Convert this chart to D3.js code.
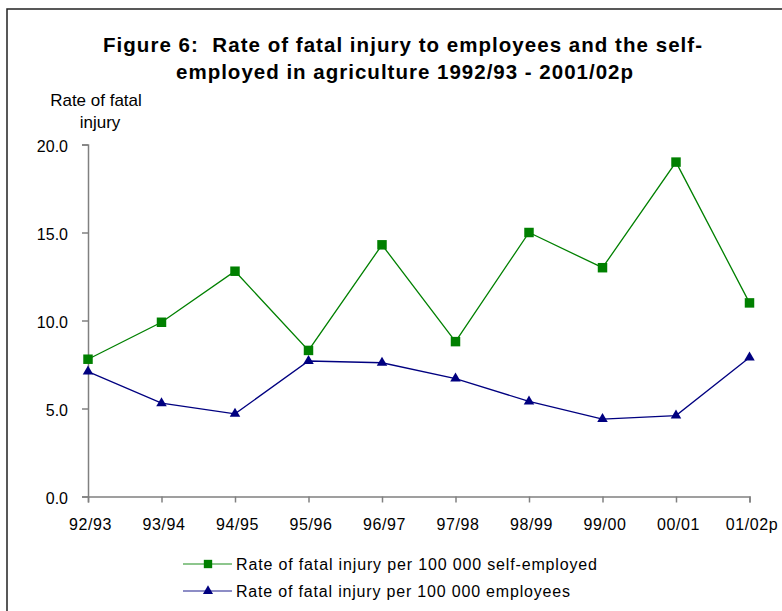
<!DOCTYPE html>
<html>
<head>
<meta charset="utf-8">
<script src="https://cdn.jsdelivr.net/npm/d3@7/dist/d3.min.js"></script>
<style>
  body { margin: 0; background: #fff; }
  svg { display: block; font-family: "Liberation Sans", Arial, sans-serif; }
</style>
</head>
<body>
<svg id="chart" width="782" height="611"></svg>
<script>
// **** Data
const years = ["92/93", "93/94", "94/95", "95/96", "96/97", "97/98", "98/99", "99/00", "00/01", "01/02p"];
const selfEmployed = [7.8, 9.9, 12.8, 8.3, 14.3, 8.8, 15.0, 13.0, 19.0, 11.0];
const employees = [7.1, 5.3, 4.7, 7.7, 7.6, 6.7, 5.4, 4.4, 4.6, 7.9];
const yTicks = [0, 5, 10, 15, 20];

const svg = d3.select("#chart");

// **** Frame
svg.append("rect")
  .attr("x", 7).attr("y", 9)
  .attr("width", 800).attr("height", 620)
  .attr("fill", "none")
  .attr("stroke", "#222")
  .attr("stroke-width", 1.5);

// **** Title
const title = svg.append("text")
  .attr("font-weight", "bold")
  .attr("font-size", 20.5)
  .style("white-space", "pre");
title.append("tspan").attr("x", 103).attr("y", 52)
  .attr("textLength", 599).attr("lengthAdjust", "spacing")
  .text("Figure 6:  Rate of fatal injury to employees and the self-");
title.append("tspan").attr("x", 176).attr("y", 79)
  .attr("textLength", 457).attr("lengthAdjust", "spacing")
  .text("employed in agriculture 1992/93 - 2001/02p");

// **** Y axis label
const ylab = svg.append("text")
  .attr("text-anchor", "middle")
  .attr("font-size", 17);
ylab.append("tspan").attr("x", 96).attr("y", 106).text("Rate of fatal");
ylab.append("tspan").attr("x", 100).attr("y", 128).text("injury");

// **** Scales
const x = d3.scalePoint().domain(years).range([88, 749.5]);
const y = d3.scaleLinear().domain([0, 20]).range([496.5, 144.5]);

// **** Axes
const yAxis = svg.append("g")
  .attr("transform", "translate(88,0)")
  .call(d3.axisLeft(y).tickValues(yTicks).tickFormat(d3.format(".1f")).tickSizeOuter(0).tickSize(6).tickPadding(14));
const xAxis = svg.append("g")
  .attr("transform", "translate(0,496.5)")
  .call(d3.axisBottom(x).tickSizeOuter(0).tickSize(6));

[yAxis, xAxis].forEach(g => {
  g.selectAll("path, line").attr("stroke", "#808080").attr("stroke-width", 1.5);
  g.selectAll("text").attr("fill", "#000").attr("font-size", 16)
    .attr("font-family", "Liberation Sans, Arial, sans-serif");
});
yAxis.selectAll("text").attr("dy", "0.45em");
xAxis.selectAll("text").attr("y", 33.5).attr("dy", 0).attr("x", 2)
  .attr("letter-spacing", 0.6);

// **** Lines
const line = d3.line().x((d, i) => x(years[i])).y(d => y(d));

const series = [
  { name: "Rate of fatal injury per 100 000 self-employed", values: selfEmployed, color: "#008000", shape: d3.symbolSquare, width: 361 },
  { name: "Rate of fatal injury per 100 000 employees", values: employees, color: "#000080", shape: d3.symbolTriangle, width: 334 }
];

series.forEach(s => {
  svg.append("path")
    .datum(s.values)
    .attr("fill", "none")
    .attr("stroke", s.color)
    .attr("stroke-width", 1.3)
    .attr("d", line);

  svg.selectAll(null)
    .data(s.values)
    .join("path")
    .attr("transform", (d, i) => `translate(${x(years[i])},${y(d)})`)
    .attr("d", d3.symbol().type(s.shape).size(s.shape === d3.symbolSquare ? 90 : 48))
    .attr("fill", s.color);
});

// **** Legend
const legend = svg.append("g");
series.forEach((s, i) => {
  const ly = 564 + i * 27;
  legend.append("line")
    .attr("x1", 183).attr("x2", 232)
    .attr("y1", ly).attr("y2", ly)
    .attr("stroke", s.color)
    .attr("stroke-opacity", 0.6)
    .attr("stroke-width", 1.5);
  legend.append("path")
    .attr("transform", `translate(208,${ly})`)
    .attr("d", d3.symbol().type(s.shape).size(s.shape === d3.symbolSquare ? 70 : 44))
    .attr("fill", s.color);
  legend.append("text")
    .attr("x", 236).attr("y", ly + 6)
    .attr("font-size", 16)
    .attr("textLength", s.width).attr("lengthAdjust", "spacing")
    .text(s.name);
});
</script>
</body>
</html>
